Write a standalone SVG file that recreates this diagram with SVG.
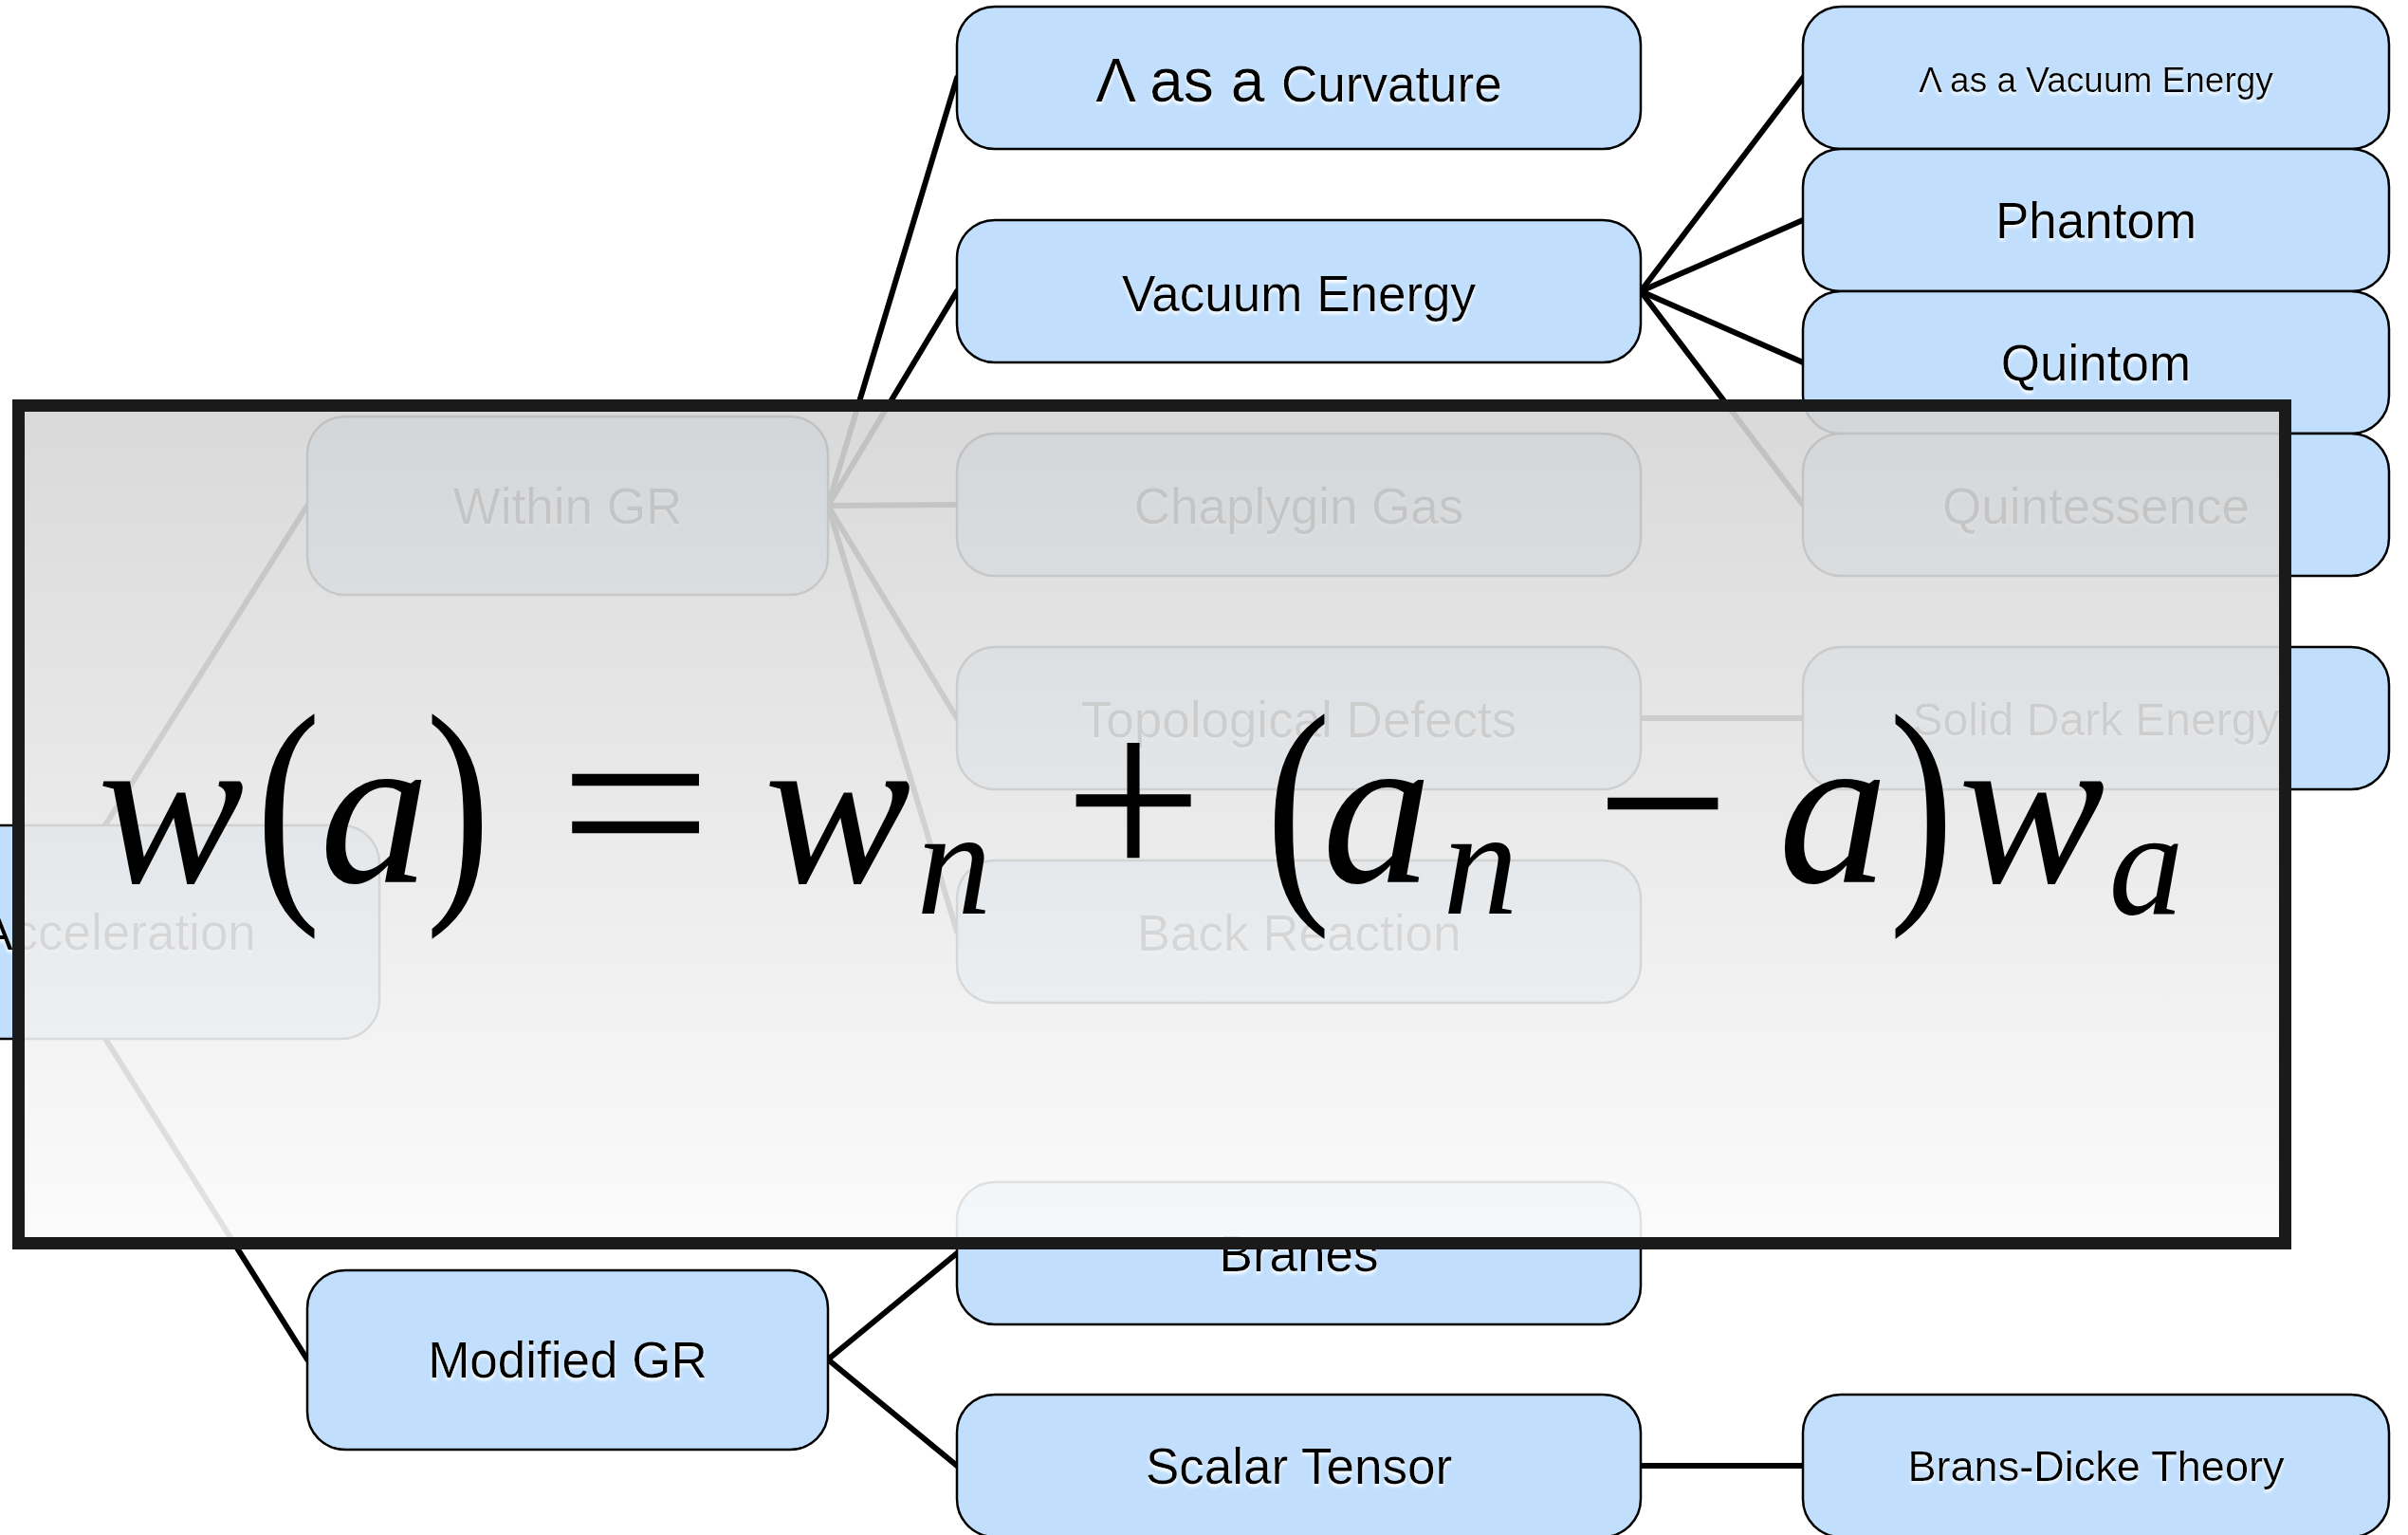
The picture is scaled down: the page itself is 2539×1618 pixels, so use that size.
<svg xmlns="http://www.w3.org/2000/svg" width="2539" height="1618" viewBox="0 0 2539 1618">
<defs>
<style>
.node rect{fill:#c1dffd;stroke:#000;stroke-width:2.5}
.lbl{font-family:"Liberation Sans",Arial,Helvetica,sans-serif;fill:#000;text-anchor:middle;filter:url(#glow)}
.f53{font-size:53px}
#connectors line{stroke:#000;stroke-width:6;stroke-linecap:round}
.mi{font-family:"Liberation Serif","Times New Roman",serif;font-style:italic;text-anchor:middle;fill:#000}
.mo{font-family:"Liberation Serif","Times New Roman",serif;text-anchor:middle;fill:#000}
</style>
<filter id="glow" x="-10%" y="-30%" width="120%" height="160%">
<feDropShadow dx="0" dy="3" stdDeviation="1.5" flood-color="#ffffff" flood-opacity="0.95"/>
</filter>
<linearGradient id="ovg" x1="0" y1="0" x2="0" y2="1">
<stop offset="0" stop-color="#d5d5d5"/>
<stop offset="1" stop-color="#fbfbfb"/>
</linearGradient>
</defs>
<rect x="0" y="0" width="2539" height="1618" fill="#ffffff"/>
<g id="connectors">
<line x1="40" y1="982" x2="324" y2="533"/>
<line x1="40" y1="982" x2="324" y2="1433"/>
<line x1="873" y1="533" x2="1009" y2="82"/>
<line x1="873" y1="533" x2="1009" y2="307"/>
<line x1="873" y1="533" x2="1009" y2="532"/>
<line x1="873" y1="533" x2="1009" y2="757"/>
<line x1="873" y1="533" x2="1009" y2="982"/>
<line x1="873" y1="1433" x2="1009" y2="1321"/>
<line x1="873" y1="1433" x2="1009" y2="1545"/>
<line x1="1730" y1="307" x2="1901" y2="82"/>
<line x1="1730" y1="307" x2="1901" y2="232"/>
<line x1="1730" y1="307" x2="1901" y2="382"/>
<line x1="1730" y1="307" x2="1901" y2="532"/>
<line x1="1730" y1="757" x2="1901" y2="757"/>
<line x1="1730" y1="1545" x2="1901" y2="1545"/>
</g>
<g id="node-acceleration" class="node"><rect x="-149" y="870" width="549" height="225" rx="40"/><text class="lbl f53" x="124" y="1001">Acceleration</text></g>
<g id="node-within-gr" class="node"><rect x="324" y="439" width="549" height="188" rx="40"/><text class="lbl f53" x="598.5" y="552">Within GR</text></g>
<g id="node-modified-gr" class="node"><rect x="324" y="1339" width="549" height="189" rx="40"/><text class="lbl f53" x="598.5" y="1452">Modified GR</text></g>
<g id="node-curvature" class="node"><rect x="1009" y="7" width="721" height="150" rx="40"/><text class="lbl" x="1369.5" y="107"><tspan style="font-size:64px">Λ as a </tspan><tspan style="font-size:53px">Curvature</tspan></text></g>
<g id="node-vacuum-energy" class="node"><rect x="1009" y="232" width="721" height="150" rx="40"/><text class="lbl f53" x="1369.5" y="328">Vacuum Energy</text></g>
<g id="node-chaplygin" class="node"><rect x="1009" y="457" width="721" height="150" rx="40"/><text class="lbl f53" x="1369.5" y="552">Chaplygin Gas</text></g>
<g id="node-topological" class="node"><rect x="1009" y="682" width="721" height="150" rx="40"/><text class="lbl f53" x="1369.5" y="777">Topological Defects</text></g>
<g id="node-back-reaction" class="node"><rect x="1009" y="907" width="721" height="150" rx="40"/><text class="lbl f53" x="1369.5" y="1002">Back Reaction</text></g>
<g id="node-branes" class="node"><rect x="1009" y="1246" width="721" height="150" rx="40"/><text class="lbl f53" x="1369.5" y="1340">Branes</text></g>
<g id="node-scalar-tensor" class="node"><rect x="1009" y="1470" width="721" height="150" rx="40"/><text class="lbl f53" x="1369.5" y="1564">Scalar Tensor</text></g>
<g id="node-lambda-vacuum" class="node"><rect x="1901" y="7" width="618" height="150" rx="40"/><text class="lbl" x="2210" y="97" style="font-size:37px">Λ as a Vacuum Energy</text></g>
<g id="node-phantom" class="node"><rect x="1901" y="157" width="618" height="150" rx="40"/><text class="lbl f53" x="2210" y="251">Phantom</text></g>
<g id="node-quintom" class="node"><rect x="1901" y="307" width="618" height="150" rx="40"/><text class="lbl f53" x="2210" y="401">Quintom</text></g>
<g id="node-quintessence" class="node"><rect x="1901" y="457" width="618" height="150" rx="40"/><text class="lbl f53" x="2210" y="552">Quintessence</text></g>
<g id="node-solid-dark-energy" class="node"><rect x="1901" y="682" width="618" height="150" rx="40"/><text class="lbl" x="2210" y="775" style="font-size:48px">Solid Dark Energy</text></g>
<g id="node-brans-dicke" class="node"><rect x="1901" y="1470" width="618" height="150" rx="40"/><text class="lbl" x="2210" y="1561" style="font-size:45px">Brans-Dicke Theory</text></g>
<g id="overlay">
<rect x="19.5" y="427.5" width="2390" height="883" fill="url(#ovg)" fill-opacity="0.9" stroke="#1a1a1a" stroke-width="13"/>
<g id="formula">
<text class="mi" x="180" y="930" font-size="232">w</text>
<text class="mo" transform="translate(304,934) scale(0.78,1)" x="0" y="0" font-size="262">(</text>
<text class="mi" x="395" y="930" font-size="232">a</text>
<text class="mo" transform="translate(483,934) scale(0.78,1)" x="0" y="0" font-size="262">)</text>
<text class="mo" transform="translate(670,930) scale(1.15,1)" x="0" y="0" font-size="250">=</text>
<text class="mi" x="883" y="930" font-size="232">w</text>
<text class="mi" x="1006" y="963" font-size="158">n</text>
<text class="mo" x="1195" y="930" font-size="260">+</text>
<text class="mo" transform="translate(1369,934) scale(0.78,1)" x="0" y="0" font-size="262">(</text>
<text class="mi" x="1452" y="930" font-size="232">a</text>
<text class="mi" x="1561" y="963" font-size="158">n</text>
<text class="mo" x="1753" y="930" font-size="250">−</text>
<text class="mi" x="1933" y="930" font-size="232">a</text>
<text class="mo" transform="translate(2026,934) scale(0.78,1)" x="0" y="0" font-size="262">)</text>
<text class="mi" x="2142" y="930" font-size="232">w</text>
<text class="mi" x="2263" y="963" font-size="158">a</text>
</g>
</g>
</svg>
